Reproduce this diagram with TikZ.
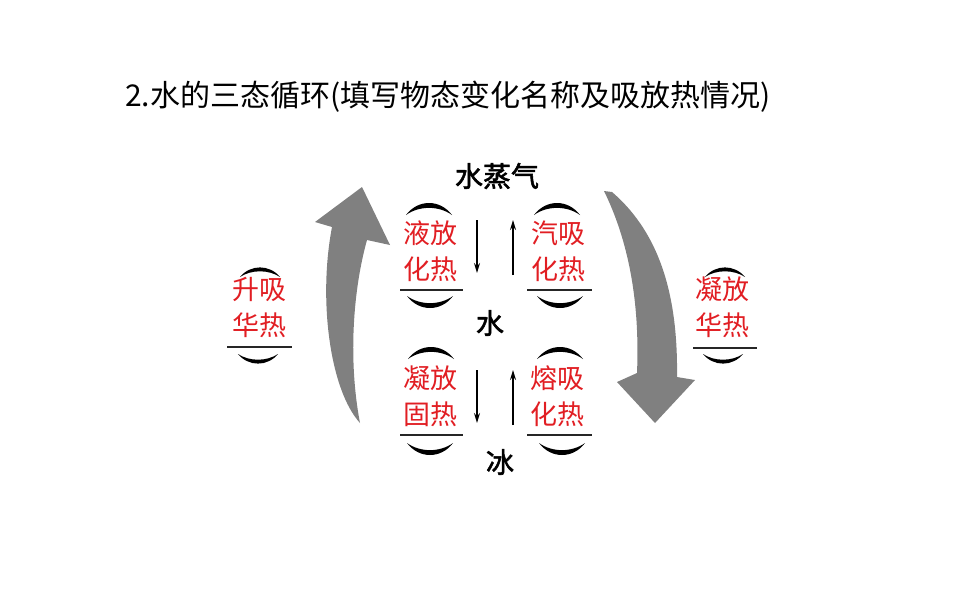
\documentclass[tikz,border=0pt]{standalone}
\usepackage{fontspec}
\newfontfamily\cjk{Noto Sans CJK SC}
\newfontfamily\cjkb[FakeBold=2]{Noto Sans CJK SC}
\usetikzlibrary{arrows.meta}
\definecolor{tred}{RGB}{225,30,35}
\definecolor{agray}{RGB}{128,128,128}
\begin{document}
\begin{tikzpicture}[x=1pt,y=-1pt,
  redtxt/.style={text=tred, font=\cjk\fontsize{27}{36}\selectfont, align=center, inner sep=0},
  statetxt/.style={font=\cjkb\fontsize{28}{30}\selectfont, inner sep=0},
  smallarrow/.style={-{Stealth[length=10pt,width=6pt]}, line width=1.3pt},
  uline/.style={line width=2pt, draw=black!85},
  crescent/.pic={\fill (-23,10) .. controls (-11,-6) and (11,-6) .. (23,10) .. controls (10,0.5) and (-10,0.5) .. cycle;},
  bigarrow/.style={fill=agray}
]
\useasboundingbox (0,0) rectangle (960,600);

% title
\node[anchor=west, font=\cjk\fontsize{30}{30}\selectfont, inner sep=0] (title) at (125,97) {2.水的三态循环(填写物态变化名称及吸放热情况)};

% states
\node[statetxt] (vapor) at (497,176) {水蒸气};
\node[statetxt] (water) at (490,323) {水};
\node[statetxt] (ice) at (500,462) {冰};

% red labels
\node[redtxt] (liq) at (430,251) {液放\\化热};
\node[redtxt] (vap) at (558,251) {汽吸\\化热};
\node[redtxt] (sol) at (430,396) {凝放\\固热};
\node[redtxt] (mel) at (557,396) {熔吸\\化热};
\node[redtxt] (sub) at (259,307) {升吸\\华热};
\node[redtxt] (dep) at (722,307) {凝放\\华热};

% brackets: caps and underlines
\pic at (429,205) {crescent};
\pic at (557,205) {crescent};
\pic[yscale=-1] at (430,306) {crescent};
\pic[yscale=-1] at (560,306) {crescent};
\draw[uline] (400,290) -- (463,290);
\draw[uline] (527,290) -- (592,290);

\pic at (431,349) {crescent};
\pic at (560,349) {crescent};
\pic[yscale=-1] at (430,453) {crescent};
\pic[yscale=-1] at (562,453) {crescent};
\draw[uline] (400,435) -- (463,435);
\draw[uline] (527,435) -- (592,435);

\pic[xscale=0.87,yscale=0.8] at (260,269) {crescent};
\pic[xscale=0.87,yscale=-0.8] at (258,362) {crescent};
\draw[uline] (227,347) -- (292,347);

\pic[xscale=0.87,yscale=0.8] at (725,269) {crescent};
\pic[xscale=0.87,yscale=-0.8] at (723,362) {crescent};
\draw[uline] (693,348) -- (757,348);

% small arrows
\coordinate (a1s) at (477,220); \coordinate (a1e) at (477,273);
\coordinate (a2s) at (513,275); \coordinate (a2e) at (513,220);
\coordinate (a3s) at (477,370); \coordinate (a3e) at (477,423);
\coordinate (a4s) at (513,425); \coordinate (a4e) at (513,370);
\draw[smallarrow] (a1s) -- (a1e);
\draw[smallarrow] (a2s) -- (a2e);
\draw[smallarrow] (a3s) -- (a3e);
\draw[smallarrow] (a4s) -- (a4e);

% big gray arrows
\fill[bigarrow] (362,187) -- (390,245) -- (367,240)
  .. controls (353,290) and (348,360) .. (360,423)
  .. controls (330,390) and (318,300) .. (332,227)
  -- (315,222) -- cycle;
\fill[bigarrow] (604,191)
  .. controls (628,240) and (640,300) .. (637,373)
  -- (617,382) -- (655,423) -- (695,380) -- (677,377)
  .. controls (678,300) and (662,235) .. (612,192) -- cycle;
\end{tikzpicture}
\end{document}
